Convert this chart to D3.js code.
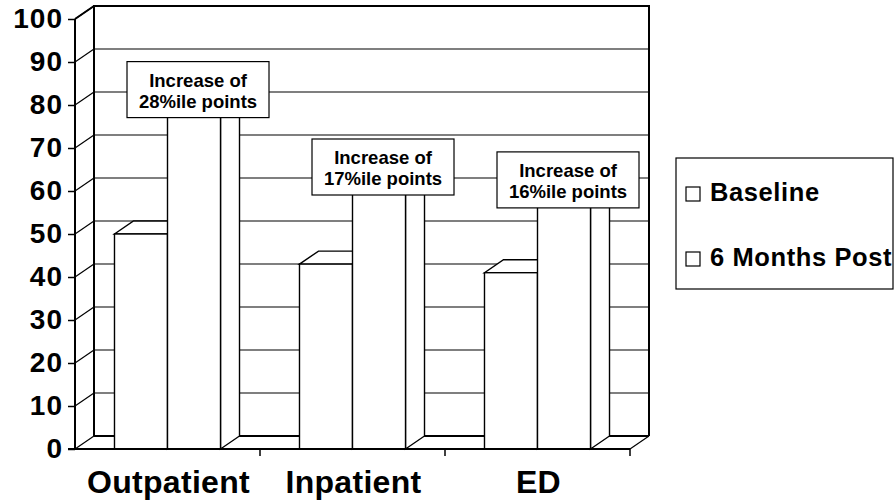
<!DOCTYPE html>
<html>
<head>
<meta charset="utf-8">
<script src="https://cdn.jsdelivr.net/npm/d3@7"></script>
<style>
  html, body { margin: 0; padding: 0; background: #fff; }
  svg { display: block; font-family: "Liberation Sans", Arial, sans-serif; font-weight: bold; }
</style>
</head>
<body>
<svg id="chart" width="896" height="501"></svg>
<script>
// Percentile scores by care setting
const categories = ["Outpatient", "Inpatient", "ED"];
const seriesNames = ["Baseline", "6 Months Post"];
const baseline = [50, 43, 41];
const sixMonthsPost = [78, 60, 57];
const increaseLabels = [
  ["Increase of", "28%ile points"],
  ["Increase of", "17%ile points"],
  ["Increase of", "16%ile points"]
];
const yTicks = [0, 10, 20, 30, 40, 50, 60, 70, 80, 90, 100];

const svg = d3.select("#chart");

// 3D depth offset of the walls and columns
const DX = 19, DY = -13;

const y = d3.scaleLinear().domain([0, 100]).range([449, 19]);
const x0 = d3.scaleBand().domain(categories).range([75, 630]).paddingInner(0).paddingOuter(0);
const x1 = d3.scaleBand().domain(seriesNames).range([0, x0.bandwidth()]).paddingInner(0).paddingOuter(0.745);

const xL = x0.range()[0], xR = x0.range()[1];
const y0 = y(0), yTop = y(100);

// Back wall
const wall = svg.append("g");
wall.append("rect")
  .attr("x", xL + DX).attr("y", yTop + DY)
  .attr("width", xR - xL).attr("height", y0 - yTop)
  .attr("fill", "#fff");

// Gridlines on the back wall
wall.selectAll("line.grid")
  .data(yTicks.filter(t => t > 0 && t < 100))
  .join("line")
  .attr("x1", xL + DX).attr("x2", xR + DX)
  .attr("y1", d => y(d) + DY).attr("y2", d => y(d) + DY)
  .attr("stroke", "#000").attr("stroke-width", 1.2);

// Diagonals on the left side wall
wall.selectAll("line.side")
  .data(yTicks)
  .join("line")
  .attr("x1", xL).attr("x2", xL + DX)
  .attr("y1", d => y(d)).attr("y2", d => y(d) + DY)
  .attr("stroke", "#000").attr("stroke-width", 1.2);

// Wall frame
const frame = d3.path();
frame.moveTo(xL + DX, y0 + DY);
frame.lineTo(xL + DX, yTop + DY);
frame.lineTo(xR + DX, yTop + DY);
frame.lineTo(xR + DX, y0 + DY);
wall.append("path").attr("d", frame.toString())
  .attr("fill", "none").attr("stroke", "#000").attr("stroke-width", 2);

// Floor
wall.append("line")
  .attr("x1", xL + DX).attr("x2", xR + DX)
  .attr("y1", y0 + DY).attr("y2", y0 + DY)
  .attr("stroke", "#000").attr("stroke-width", 2.2);
wall.append("line")
  .attr("x1", xR).attr("x2", xR + DX)
  .attr("y1", y0).attr("y2", y0 + DY)
  .attr("stroke", "#000").attr("stroke-width", 1.2);

// Columns
const rows = categories.map((c, i) => ({ cat: c, vals: [baseline[i], sixMonthsPost[i]] }));
const bars = [];
rows.forEach(r => r.vals.forEach((v, j) => bars.push({ cat: r.cat, series: seriesNames[j], value: v })));

const barG = svg.append("g");
bars.forEach(b => {
  const xa = x0(b.cat) + x1(b.series);
  const xb = xa + x1.bandwidth();
  const yt = y(b.value);
  const g = barG.append("g")
    .attr("fill", "#fff").attr("stroke", "#000")
    .attr("stroke-width", 1.4).attr("stroke-linejoin", "miter");
  // top face
  g.append("polygon").attr("points", [
    [xa, yt], [xb, yt], [xb + DX, yt + DY], [xa + DX, yt + DY]
  ].map(p => p.join(",")).join(" "));
  // side face
  g.append("polygon").attr("points", [
    [xb, yt], [xb + DX, yt + DY], [xb + DX, y0 + DY], [xb, y0]
  ].map(p => p.join(",")).join(" "));
  // front face
  g.append("rect").attr("x", xa).attr("y", yt)
    .attr("width", xb - xa).attr("height", y0 - yt);
});

// Front axes
const axes = svg.append("g").attr("stroke", "#000");
axes.append("line").attr("x1", xL).attr("x2", xL).attr("y1", yTop).attr("y2", y0).attr("stroke-width", 2);
axes.append("line").attr("x1", xL).attr("x2", xL + DX).attr("y1", yTop).attr("y2", yTop + DY).attr("stroke-width", 2);
axes.append("line").attr("x1", xL - 7).attr("x2", xR).attr("y1", y0).attr("y2", y0).attr("stroke-width", 2);

// Y ticks and labels
const yAxis = d3.axisLeft(y).tickValues(yTicks).tickSize(7).tickPadding(5).tickFormat(d3.format("d"));
const yg = svg.append("g").attr("transform", `translate(${xL},0)`).call(yAxis);
yg.select(".domain").remove();
yg.selectAll(".tick line").attr("stroke", "#000").attr("stroke-width", 1.5);
yg.selectAll(".tick text")
  .attr("font-family", "Liberation Sans, Arial, sans-serif")
  .attr("font-weight", "bold").attr("font-size", 28)
  .attr("letter-spacing", 1)
  .attr("fill", "#000");

// Category boundary ticks
const bounds = categories.map(c => x0(c)).concat([xR]);
svg.append("g").selectAll("line")
  .data(bounds.slice(1))
  .join("line")
  .attr("x1", d => d).attr("x2", d => d)
  .attr("y1", y0).attr("y2", y0 + 7)
  .attr("stroke", "#000").attr("stroke-width", 1.5);

// Category labels
svg.append("g").selectAll("text")
  .data(categories)
  .join("text")
  .attr("x", d => x0(d) + x0.bandwidth() / 2 + 1)
  .attr("y", 493)
  .attr("text-anchor", "middle")
  .attr("font-size", 32)
  .attr("letter-spacing", 0.3)
  .attr("fill", "#000")
  .text(d => d);

// Increase annotations above the 6 Months Post columns
const boxW = 142, boxH = 56;
const ann = svg.append("g");
categories.forEach((c, i) => {
  const cx = x0(c) + x1(seriesNames[1]) + x1.bandwidth() / 2 + 4;
  const bottom = y(sixMonthsPost[i]) + 4;
  const g = ann.append("g").attr("transform", `translate(${cx - boxW / 2},${bottom - boxH})`);
  g.append("rect").attr("width", boxW).attr("height", boxH)
    .attr("fill", "#fff").attr("stroke", "#000").attr("stroke-width", 1.2);
  increaseLabels[i].forEach((line, k) => {
    g.append("text")
      .attr("x", boxW / 2).attr("y", 25 + k * 21)
      .attr("text-anchor", "middle")
      .attr("font-size", 18.5)
      .attr("fill", "#000")
      .text(line);
  });
});

// Legend
const legend = svg.append("g");
legend.append("rect").attr("x", 676).attr("y", 158).attr("width", 217).attr("height", 131)
  .attr("fill", "#fff").attr("stroke", "#000").attr("stroke-width", 1.2);
seriesNames.forEach((s, i) => {
  const yy = 187 + i * 65;
  legend.append("rect").attr("x", 686).attr("y", yy).attr("width", 14).attr("height", 14)
    .attr("fill", "#fff").attr("stroke", "#000").attr("stroke-width", 1.2);
  legend.append("text").attr("x", 710).attr("y", yy + 14)
    .attr("font-size", 25.5).attr("letter-spacing", 0.6).attr("fill", "#000").text(s);
});
</script>
</body>
</html>
